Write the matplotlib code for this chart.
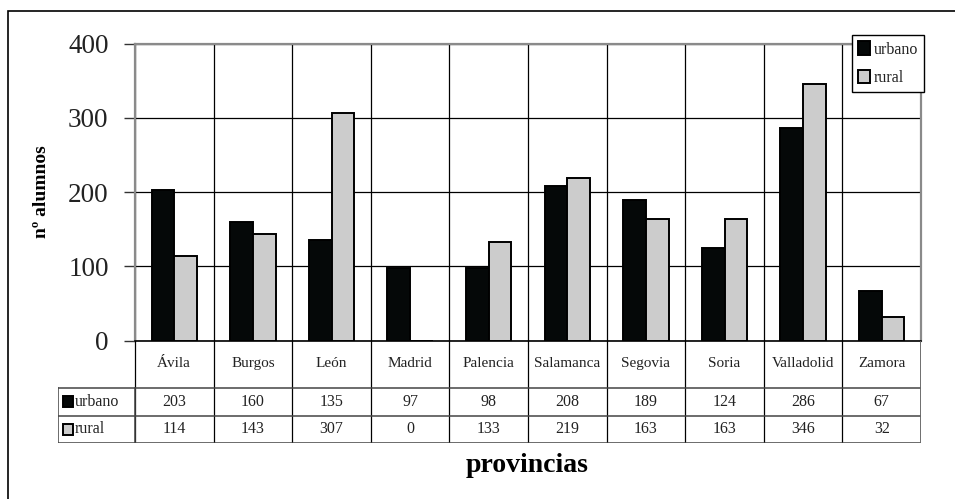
import numpy as np
import matplotlib
matplotlib.use("Agg")
import matplotlib.pyplot as plt
from matplotlib.patches import Rectangle

plt.rcParams['font.family'] = ['Liberation Serif', 'DejaVu Serif']

provincias = ["Ávila", "Burgos", "León", "Madrid", "Palencia",
              "Salamanca", "Segovia", "Soria", "Valladolid", "Zamora"]
urbano = [203, 160, 135, 97, 98, 208, 189, 124, 286, 67]
rural = [114, 143, 307, 0, 133, 219, 163, 163, 346, 32]
series_names = ["urbano", "rural"]
yticks = [0, 100, 200, 300, 400]

W, H = 955, 499
fig = plt.figure(figsize=(W / 100, H / 100), dpi=100)


def fbox(x0, y0, x1, y1):
    """Pixel box (top-left origin) to figure-fraction rect."""
    return [x0 / W, 1 - y1 / H, (x1 - x0) / W, (y1 - y0) / H]


# outer frame
fig.patches.append(Rectangle((8 / W, -0.02), 1.1, 1 - 11 / H + 0.02,
                             transform=fig.transFigure, fill=False,
                             edgecolor="black", linewidth=1.2))

# ---- bar chart ----
px_left, px_right, px_top, px_zero = 135, 921, 43.5, 340.5
ax = fig.add_axes(fbox(px_left, px_top, px_right, px_zero))
n = len(provincias)
x = np.arange(n)
bw = 0.29
c_urb, c_rur = "#050808", "#cccccc"
ax.bar(x - bw / 2, urbano, bw, color=c_urb, edgecolor="black", linewidth=1.4,
       zorder=3, label=series_names[0])
ax.bar(x + bw / 2, rural, bw, color=c_rur, edgecolor="black", linewidth=1.4,
       zorder=3, label=series_names[1])
ax.set_xlim(-0.5, n - 0.5)
ax.set_ylim(0, 400)
ax.set_yticks(yticks)
ax.set_yticklabels([str(v) for v in yticks], fontsize=19.5, color="#222222")
ax.tick_params(axis="y", length=8, width=1, color="#333333", pad=11)
ax.set_xticks([])
ax.set_xticks(np.arange(-0.5, n, 1), minor=True)
ax.tick_params(axis="x", which="both", length=0)
ax.set_axisbelow(True)
ax.yaxis.grid(True, color="black", linewidth=0.9)
ax.xaxis.grid(True, which="minor", color="black", linewidth=0.9)
for side in ("top", "right", "left"):
    ax.spines[side].set_color("#8a8a8a")
    ax.spines[side].set_linewidth(1.6)
ax.spines["bottom"].set_color("black")
ax.spines["bottom"].set_linewidth(1.2)

ax.set_ylabel("nº alumnos", fontsize=14, fontweight="bold")
ax.yaxis.set_label_coords(-(px_left - 50) / (px_right - px_left), 0.5)

# ---- data table under the chart ----
lab_left = 58
row_top, row_mid, row_bot = 388, 416, 443
cat_w = (px_right - px_left) / n
tx0 = -0.5 - (px_left - lab_left) / cat_w
tab = fig.add_axes(fbox(lab_left, px_zero, px_right, row_bot))
tab.set_xlim(tx0, n - 0.5)
tab.set_ylim(row_bot, px_zero)
tab.axis("off")
line_kw = dict(color="#444444", linewidth=1.1)
for k in range(n + 1):
    tab.plot([k - 0.5, k - 0.5], [px_zero, row_bot], color="black", linewidth=0.9)
for yy in (row_top, row_mid, row_bot):
    tab.plot([tx0, n - 0.5], [yy, yy], **line_kw)
tab.plot([tx0, tx0], [row_top, row_bot], **line_kw)
tab.plot([-0.5, -0.5], [row_top, row_bot], **line_kw)
tab.plot([n - 0.5, n - 0.5], [px_zero, row_bot], color="#666666", linewidth=1.3)

for i, name in enumerate(provincias):
    tab.text(i, 364, name, ha="center", va="center", fontsize=11, color="#222222")
for row, (vals, yc) in enumerate(zip((urbano, rural),
                                     ((row_top + row_mid) / 2, (row_mid + row_bot) / 2))):
    for i, v in enumerate(vals):
        tab.text(i, yc, str(v), ha="center", va="center", fontsize=11.5, color="#222222")
    col = c_urb if row == 0 else c_rur
    tab.add_patch(Rectangle((tx0 + 0.06, yc - 5.5), 0.13, 11, facecolor=col,
                            edgecolor="black", linewidth=1.4))
    tab.text(tx0 + 0.21, yc, series_names[row], ha="left", va="center",
             fontsize=11.5, color="#222222")

fig.text(527 / W, 1 - 466 / H, "provincias", ha="center", va="center",
         fontsize=20, fontweight="bold")

# ---- legend ----
leg = fig.legend(loc="upper left", bbox_to_anchor=(852 / W, 1 - 35 / H),
                 borderaxespad=0, frameon=True, fancybox=False,
                 edgecolor="black", framealpha=1, fontsize=11.5,
                 handlelength=0.75, handleheight=0.9, handletextpad=0.2,
                 labelspacing=0.75, borderpad=0.4)
leg.get_frame().set_linewidth(1.0)
for t in leg.get_texts():
    t.set_color("#222222")

fig.savefig("out.png", dpi=100)
